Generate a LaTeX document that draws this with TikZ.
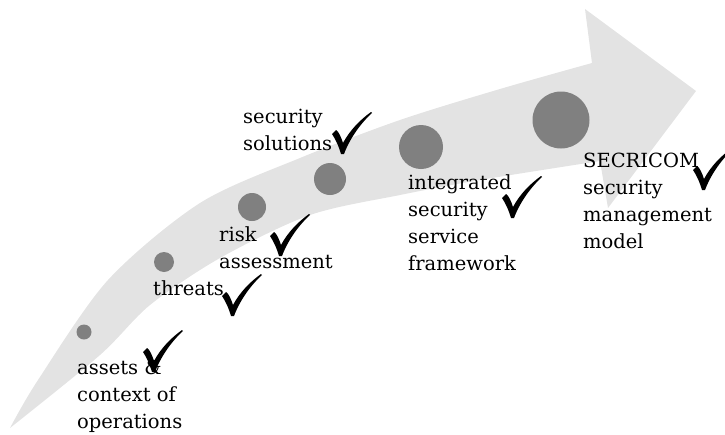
\documentclass[tikz,border=0pt]{standalone}
\usepackage{fontspec}
\setmainfont{DejaVu Serif}
\usetikzlibrary{positioning}

\definecolor{bandgray}{HTML}{E3E3E3}
\definecolor{dotgray}{HTML}{808080}

\tikzset{
  stage/.style={font=\fontsize{19.5}{27}\selectfont, align=left, inner sep=0pt, anchor=base west},
  dot/.style={circle, fill=dotgray, inner sep=0pt},
  tick/.pic={
    \fill[yscale=-1] (0,20) -- (4,24) .. controls (7,22) and (9,17) .. (11,11)
      .. controls (18,24) and (28,34) .. (39,42) -- (40,41)
      .. controls (29,31) and (18,16) .. (12,0) -- (9,0)
      .. controls (7,7) and (4,14) .. (0,20) -- cycle;
  }
}

\begin{document}
\begin{tikzpicture}[x=1pt, y=-1pt]
  \useasboundingbox (0,0) rectangle (725,434);

  % curved band with the arrow head
  \fill[bandgray] plot[smooth] coordinates {(10,428) (38,380) (108,280) (200,203) (300,158) (400,120) (500,89) (592,63)}
    -- (585,9) -- (696,91) -- (608,208) -- (600,161)
    -- plot[smooth] coordinates {(600,161) (480,180) (400,195) (310,215) (220,258) (150,305) (100,355) (10,428)} -- cycle;

  % growing dots along the band
  \node[dot, minimum size=15pt] (assetsdot) at (84,332) {};
  \node[dot, minimum size=20pt] (threatsdot) at (164,262) {};
  \node[dot, minimum size=28pt] (riskdot) at (252,207) {};
  \node[dot, minimum size=32pt] (solutionsdot) at (330,179) {};
  \node[dot, minimum size=44pt] (frameworkdot) at (421,147) {};
  \node[dot, minimum size=57pt] (modeldot) at (561,120) {};

  % stage labels (anchored on the last line)
  \node[stage] (assets) at (77,428) {assets \&\\context of\\operations};
  \node[stage] (threats) at (153,295) {threats};
  \node[stage] (risk) at (219,268) {risk\\assessment};
  \node[stage] (solutions) at (243,150) {security\\solutions};
  \node[stage] (framework) at (408,270) {integrated\\security\\service\\framework};
  \node[stage] (model) at (583,248) {SECRICOM\\security\\management\\model};

  % ticks
  \pic at (143,372) {tick};
  \pic at (222,316) {tick};
  \pic at (270,256) {tick};
  \pic at (332,154) {tick};
  \pic at (502,218) {tick};
  \pic at (693,190) {tick};
\end{tikzpicture}
\end{document}
